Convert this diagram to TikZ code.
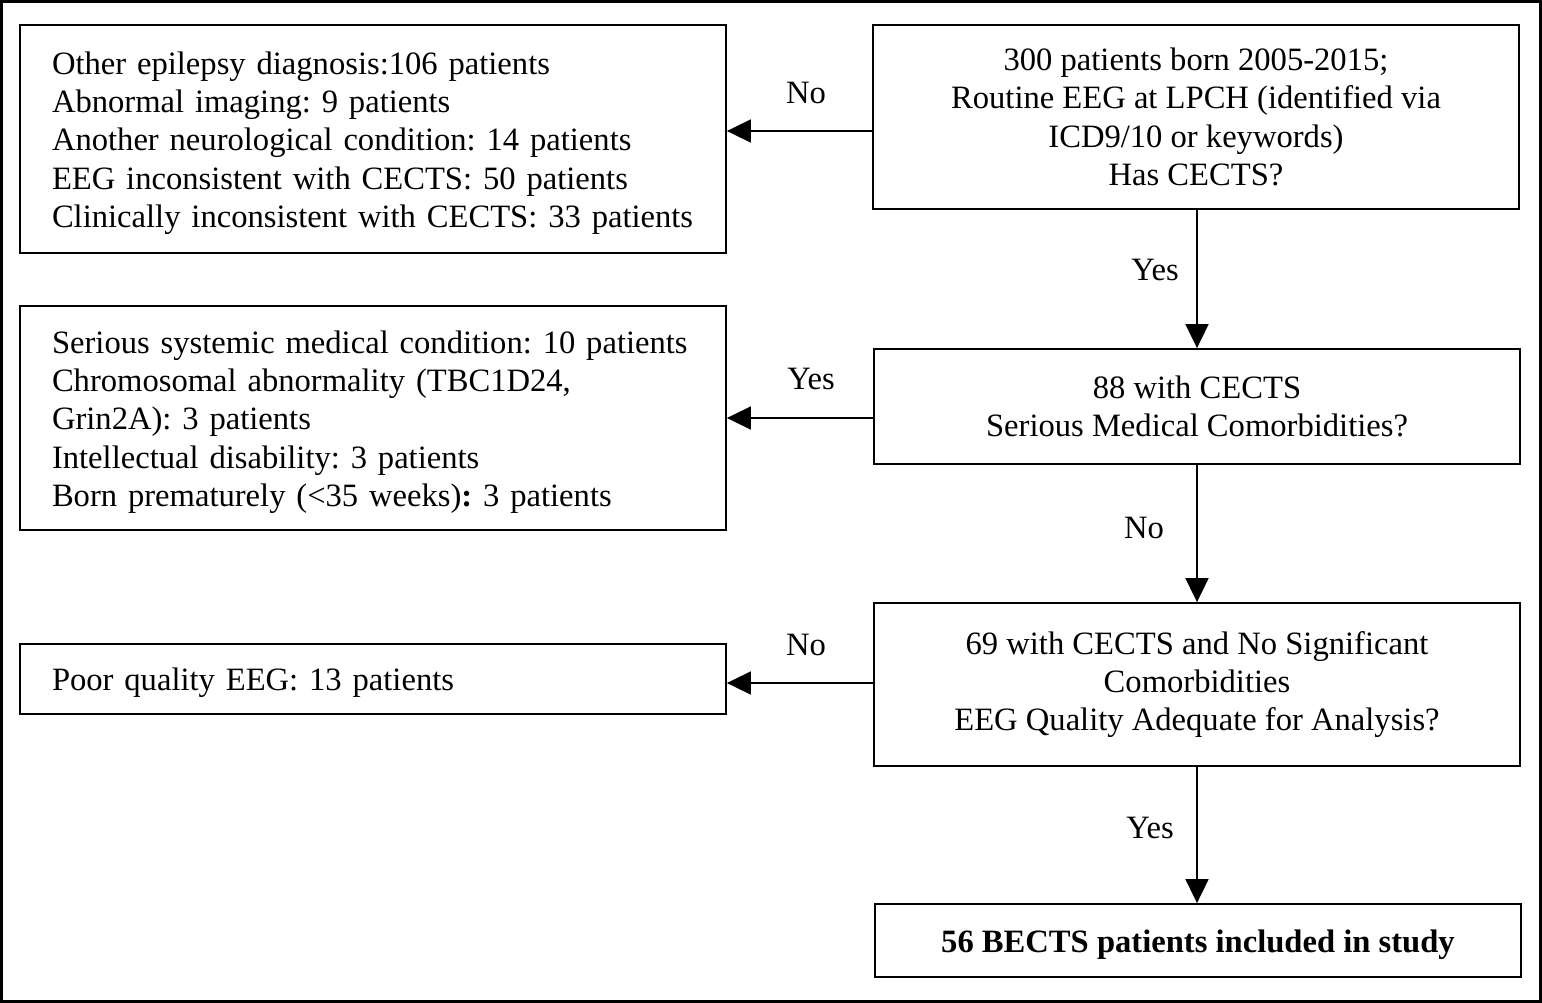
\documentclass[tikz,border=0pt]{standalone}
\usepackage{fontspec}
\setmainfont{Liberation Serif}
\usetikzlibrary{arrows.meta,positioning}
\begin{document}
\frenchspacing
\begin{tikzpicture}[x=1pt,y=-1pt,
  font=\fontsize{32.6}{38.4}\selectfont,
  box/.style={draw,line width=1.8pt,inner sep=0pt,execute at begin node={\rule{0pt}{31pt}}},
  lbox/.style={box,minimum width=706pt,text width=642pt,align=left,inner xsep=32pt},
  rbox/.style={box,minimum width=646pt,align=center},
  arr/.style={line width=1.8pt,-{Triangle[length=24pt,width=23pt]}},
  lab/.style={inner sep=0pt}]
\useasboundingbox (0,0) rectangle (1542,1003);
\draw[line width=3pt] (1.5,1.5) rectangle (1540.5,1001.5);

\node[lbox,minimum height=228pt] (L1) at (373,139) {Other epilepsy diagnosis:106 patients\\Abnormal imaging: 9 patients\\Another neurological condition: 14 patients\\EEG inconsistent with CECTS: 50 patients\\Clinically inconsistent with CECTS: 33 patients};
\node[rbox,minimum height=184pt] (R1) at (1196,117) {300 patients born 2005-2015;\\Routine EEG at LPCH (identified via\\ICD9/10 or keywords)\\Has CECTS?};

\node[lbox,minimum height=224pt] (L2) at (373,418) {Serious systemic medical condition: 10 patients\\Chromosomal abnormality (TBC1D24,\\Grin2A): 3 patients\\Intellectual disability: 3 patients\\Born prematurely (<35 weeks)\textbf{:} 3 patients};
\node[rbox,minimum height=115pt] (R2) at (1197,406.5) {88 with CECTS\\Serious Medical Comorbidities?};

\node[lbox,minimum height=70pt] (L3) at (373,679) {Poor quality EEG: 13 patients};
\node[rbox,minimum height=163pt] (R3) at (1197,684.5) {69 with CECTS and No Significant\\Comorbidities\\EEG Quality Adequate for Analysis?};

\node[rbox,minimum height=73pt,font=\fontsize{32.6}{38.4}\selectfont\bfseries] (R4) at (1198,940.5) {56 BECTS patients included in study};

\draw[arr] ([yshift=8pt]L1.east -| R1.west) -- ([yshift=8pt]L1.east);
\draw[arr] (R2.west |- L2.east) -- (L2.east);
\draw[arr] ([yshift=1.5pt]R3.west) -- ([yshift=1.5pt]R3.west -| L3.east);
\draw[arr] (R1.south -| R2.north) -- (R2.north);
\draw[arr] (R2.south) -- (R3.north);
\draw[arr] (R3.south) -- (R3.south |- R4.north);

\node[lab] (n1) at (806,93) {No};
\node[lab] (y1) at (811,379) {Yes};
\node[lab] (n2) at (806,645) {No};
\node[lab] (y2) at (1155,270) {Yes};
\node[lab] (n3) at (1144,528) {No};
\node[lab] (y3) at (1150,828) {Yes};
\end{tikzpicture}
\end{document}
